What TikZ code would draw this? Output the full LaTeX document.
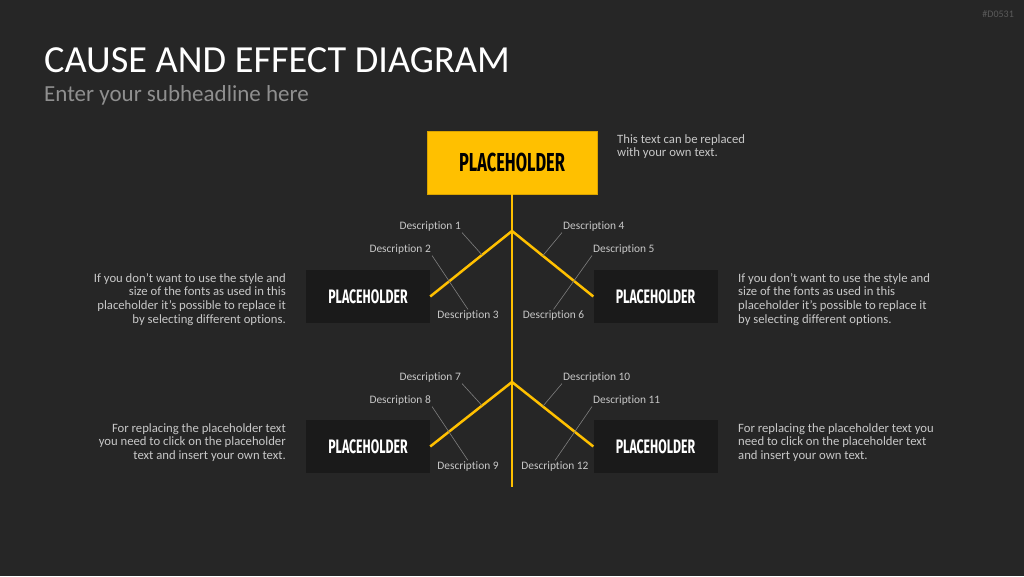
\documentclass[tikz,border=0pt]{standalone}
\usepackage{fontspec}
\setmainfont{Carlito}[Ligatures=CommonOff]
\newfontfamily\phfont{Fira Sans}
\usetikzlibrary{calc, positioning}

\definecolor{slidebg}{HTML}{262626}
\definecolor{accent}{HTML}{FFC000}
\definecolor{boxdark}{HTML}{1A1A1A}
\definecolor{softtext}{HTML}{C8C8C8}
\definecolor{subtext}{HTML}{8F8F8F}
\definecolor{tagtext}{HTML}{5A5A5A}
\definecolor{leader}{HTML}{7F7F7F}

% condensed bold caption used inside the boxes
\newcommand{\phtext}[2]{\scalebox{#1}[1]{\phfont\bfseries #2}}

\begin{document}
\begin{tikzpicture}[
		x=1pt, y=-1pt,
		mainbox/.style={fill=accent, draw=accent!85!black, minimum width=170pt, minimum height=63pt, inner sep=0pt, font=\fontsize{26}{26}\selectfont},
		causebox/.style={fill=boxdark, minimum width=124pt, minimum height=53pt, inner sep=0pt, text=white, font=\fontsize{19.5}{20}\selectfont},
		bone/.style={draw=accent, line width=2.5pt},
		desc/.style={text=softtext, font=\fontsize{11.4}{13}\selectfont, inner sep=1pt},
		leaderline/.style={draw=leader, line width=0.6pt},
		note/.style={text=softtext, font=\fontsize{12.7}{13.8}\selectfont, inner sep=0pt}
		]
		
		% background and fixed frame
		\fill[slidebg] (0,0) rectangle (1024,576);
		
		% headings
		\node[anchor=base west, inner sep=0pt, text=white, font=\fontsize{38.3}{40}\selectfont] (title) at (44,72) {CAUSE AND EFFECT DIAGRAM};
		\node[anchor=base west, inner sep=0pt, text=subtext, font=\fontsize{23}{23}\selectfont] (subtitle) at (44,101) {Enter your subheadline here};
		\node[anchor=base east, inner sep=0pt, text=tagtext, font=\fontsize{10}{10}\selectfont] (tag) at (1014,17) {\#D0531};
		
		% 1. Effect box and spine
		\node[mainbox] (effect) at (512,162.5) {\phtext{0.63}{PLACEHOLDER}};
		\node[note, anchor=north west, align=left] (effectnote) at (617,134) {This text can be replaced\\with your own text.};
		\coordinate (spineend) at (512,487);
		\coordinate (j1) at (512,231);
		\coordinate (j2) at (512,382);
		
		% 2. Cause boxes
		\node[causebox] (cause1) at (368,296.5) {\phtext{0.63}{PLACEHOLDER}};
		\node[causebox] (cause2) at (655.5,296.5) {\phtext{0.63}{PLACEHOLDER}};
		\node[causebox] (cause3) at (368,446.5) {\phtext{0.63}{PLACEHOLDER}};
		\node[causebox] (cause4) at (655.5,446.5) {\phtext{0.63}{PLACEHOLDER}};
		
		% bones
		\draw[bone] (effect.south) -- (spineend);
		\draw[bone] (j1) -- (cause1.east);
		\draw[bone] (j1) -- (cause2.west);
		\draw[bone] (j2) -- (cause3.east);
		\draw[bone] (j2) -- (cause4.west);
		
		% 3. Descriptions, upper pair
		\node[desc, anchor=east] (d1) at (462,226.5) {Description 1};
		\node[desc, anchor=east] (d2) at (432,249.5) {Description 2};
		\node[desc] (d3) at (468,315.5) {Description 3};
		\node[desc, anchor=west] (d4) at (562,226.5) {Description 4};
		\node[desc, anchor=west] (d5) at (592,249.5) {Description 5};
		\node[desc] (d6) at (553.5,315.5) {Description 6};
		
		\draw[leaderline] (d1.south east) -- ($(j1)!0.366!(cause1.east)$);
		\draw[leaderline] (d2.south east) -- (d3.north);
		\draw[leaderline] (d4.south west) -- ($(j1)!0.378!(cause2.west)$);
		\draw[leaderline] (d5.south west) -- (d6.north);
		
		% Descriptions, lower pair
		\node[desc, anchor=east] (d7) at (462,377.5) {Description 7};
		\node[desc, anchor=east] (d8) at (432,400.5) {Description 8};
		\node[desc] (d9) at (468,466.5) {Description 9};
		\node[desc, anchor=west] (d10) at (562,377.5) {Description 10};
		\node[desc, anchor=west] (d11) at (592,400.5) {Description 11};
		\node[desc] (d12) at (555,466.5) {Description 12};
		
		\draw[leaderline] (d7.south east) -- ($(j2)!0.366!(cause3.east)$);
		\draw[leaderline] (d8.south east) -- (d9.north);
		\draw[leaderline] (d10.south west) -- ($(j2)!0.378!(cause4.west)$);
		\draw[leaderline] (d11.south west) -- (d12.north);
		
		% 4. Side notes
		\node[note, anchor=north east, align=right] (note1) at (286,273) {If you don’t want to use the style and\\size of the fonts as used in this\\placeholder it’s possible to replace it\\by selecting different options.};
		\node[note, anchor=north west, align=left] (note2) at (738,273) {If you don’t want to use the style and\\size of the fonts as used in this\\placeholder it’s possible to replace it\\by selecting different options.};
		\node[note, anchor=north east, align=right] (note3) at (286,423) {For replacing the placeholder text\\you need to click on the placeholder\\text and insert your own text.};
		\node[note, anchor=north west, align=left] (note4) at (738,423) {For replacing the placeholder text you\\need to click on the placeholder text\\and insert your own text.};
		
	\end{tikzpicture}
\end{document}
